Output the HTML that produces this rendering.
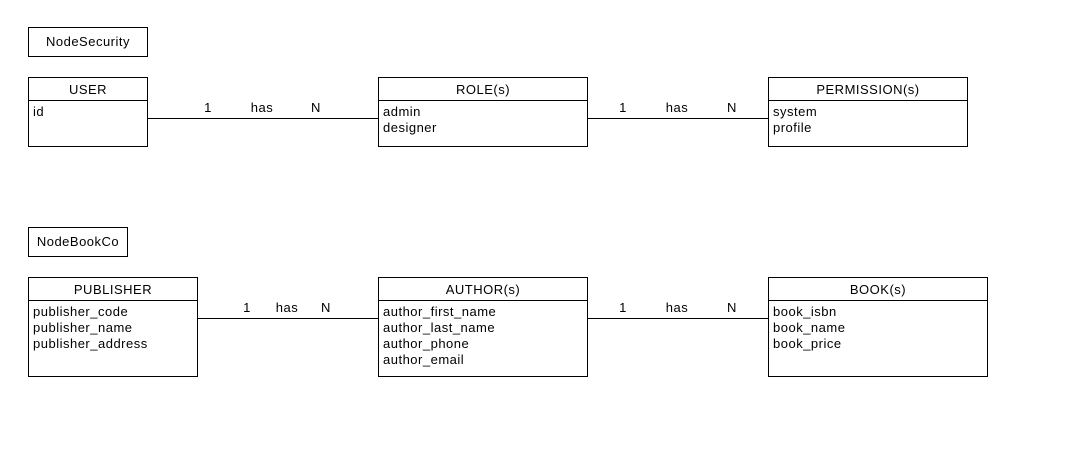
<!DOCTYPE html>
<html><head><meta charset="utf-8"><style>
html,body{margin:0;padding:0;background:#fff;}
svg{display:block;}
text{font-family:"Liberation Sans",Arial,sans-serif;font-size:13px;letter-spacing:0.5px;fill:#000;}
</style></head><body>
<svg width="1070" height="455" viewBox="0 0 1070 455" xmlns="http://www.w3.org/2000/svg">
<g fill="none" stroke="#000" stroke-width="1">
<rect x="28.5" y="27.5" width="119" height="29"/>
<rect x="28.5" y="77.5" width="119" height="69"/><line x1="28" y1="100.5" x2="148" y2="100.5"/>
<rect x="378.5" y="77.5" width="209" height="69"/><line x1="378" y1="100.5" x2="588" y2="100.5"/>
<rect x="768.5" y="77.5" width="199" height="69"/><line x1="768" y1="100.5" x2="968" y2="100.5"/>
<line x1="148" y1="118.5" x2="378" y2="118.5"/>
<line x1="588" y1="118.5" x2="768" y2="118.5"/>
<rect x="28.5" y="227.5" width="99" height="29"/>
<rect x="28.5" y="277.5" width="169" height="99"/><line x1="28" y1="300.5" x2="198" y2="300.5"/>
<rect x="378.5" y="277.5" width="209" height="99"/><line x1="378" y1="300.5" x2="588" y2="300.5"/>
<rect x="768.5" y="277.5" width="219" height="99"/><line x1="768" y1="300.5" x2="988" y2="300.5"/>
<line x1="198" y1="318.5" x2="378" y2="318.5"/>
<line x1="588" y1="318.5" x2="768" y2="318.5"/>
</g>
<text x="88" y="46" text-anchor="middle">NodeSecurity</text>
<text x="88" y="94" text-anchor="middle">USER</text>
<text x="33" y="116">id</text>
<text x="483" y="94" text-anchor="middle">ROLE(s)</text>
<text x="383" y="116">admin</text>
<text x="383" y="132">designer</text>
<text x="868" y="94" text-anchor="middle">PERMISSION(s)</text>
<text x="773" y="116">system</text>
<text x="773" y="132">profile</text>
<text x="208" y="112" text-anchor="middle">1</text>
<text x="262" y="112" text-anchor="middle">has</text>
<text x="316" y="112" text-anchor="middle">N</text>
<text x="623" y="112" text-anchor="middle">1</text>
<text x="677" y="112" text-anchor="middle">has</text>
<text x="732" y="112" text-anchor="middle">N</text>
<text x="78" y="246" text-anchor="middle">NodeBookCo</text>
<text x="113" y="294" text-anchor="middle">PUBLISHER</text>
<text x="33" y="316">publisher_code</text>
<text x="33" y="332">publisher_name</text>
<text x="33" y="348">publisher_address</text>
<text x="483" y="294" text-anchor="middle">AUTHOR(s)</text>
<text x="383" y="316">author_first_name</text>
<text x="383" y="332">author_last_name</text>
<text x="383" y="348">author_phone</text>
<text x="383" y="364">author_email</text>
<text x="878" y="294" text-anchor="middle">BOOK(s)</text>
<text x="773" y="316">book_isbn</text>
<text x="773" y="332">book_name</text>
<text x="773" y="348">book_price</text>
<text x="247" y="312" text-anchor="middle">1</text>
<text x="287" y="312" text-anchor="middle">has</text>
<text x="326" y="312" text-anchor="middle">N</text>
<text x="623" y="312" text-anchor="middle">1</text>
<text x="677" y="312" text-anchor="middle">has</text>
<text x="732" y="312" text-anchor="middle">N</text>
</svg>
</body></html>
